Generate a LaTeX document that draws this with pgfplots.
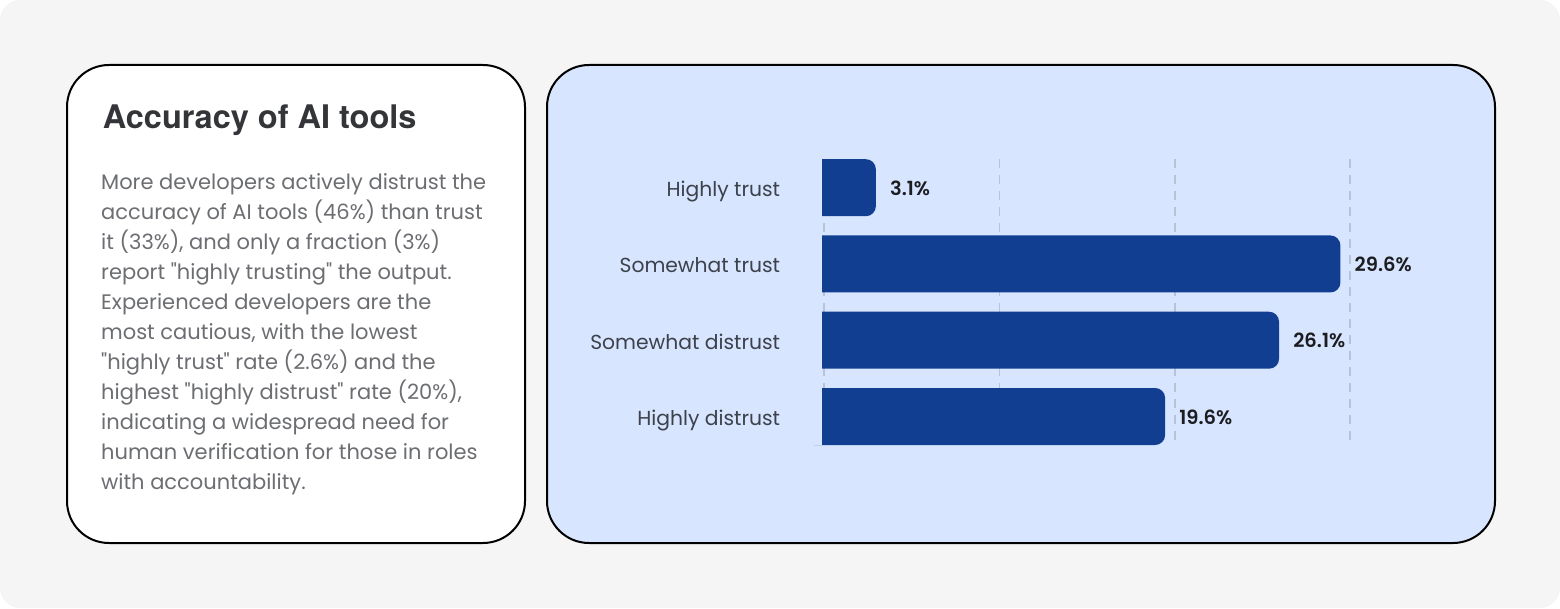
\documentclass[border=0pt]{standalone}
\usepackage{fontspec}
\usepackage{pgfplots}
\pgfplotsset{compat=1.18}
\setmainfont{Poppins}[Ligatures=TeXOff]
\newfontfamily\titlefont{TeX Gyre Heros}
\newfontfamily\semifont{Poppins SemiBold}

\definecolor{bgout}{HTML}{F5F5F5}
\definecolor{cardblue}{HTML}{D7E5FE}
\definecolor{barblue}{HTML}{123E92}
\definecolor{gridc}{HTML}{B9C3D6}
\definecolor{titlec}{HTML}{333538}
\definecolor{bodyc}{HTML}{6C6E72}
\definecolor{catc}{HTML}{3C414C}
\definecolor{valc}{HTML}{1C1D21}

\newcommand\bodyline[2]{\node[anchor=base west, inner sep=0pt, text=bodyc,
  font=\fontsize{21}{24}\selectfont] at (101,#1) {#2};}

\begin{document}
\begin{tikzpicture}[x=1pt, y=1pt]
  \fill[bgout, rounded corners=20pt] (0,0) rectangle (1560,608);
  \draw[line width=2pt, fill=white, rounded corners=42pt] (67,65) rectangle (525,543);
  \draw[line width=2pt, fill=cardblue, rounded corners=42pt] (547,65) rectangle (1495,543);

  \node[anchor=base west, inner sep=0pt, text=titlec,
    font=\titlefont\bfseries\fontsize{32.5}{38}\selectfont] at (102.7,479.7) {Accuracy of AI tools};

  \bodyline{418.0}{More developers actively distrust the}
  \bodyline{388.1}{accuracy of AI tools (46\%) than trust}
  \bodyline{358.2}{it (33\%), and only a fraction (3\%)}
  \bodyline{328.3}{report "highly trusting" the output.}
  \bodyline{298.4}{Experienced developers are the}
  \bodyline{268.5}{most cautious, with the lowest}
  \bodyline{238.6}{"highly trust" rate (2.6\%) and the}
  \bodyline{208.7}{highest "highly distrust" rate (20\%),}
  \bodyline{178.8}{indicating a widespread need for}
  \bodyline{148.9}{human verification for those in roles}
  \bodyline{119.0}{with accountability.}

  % bars are shifted one unit right; the first unit (with the rounded left ends)
  % is masked so that the bars show a square start at 0
  \begin{axis}[
    at={(804pt,163pt)}, anchor=south west,
    scale only axis, width=648.6pt, height=285.8pt,
    xbar, bar width=57pt,
    x filter/.expression={x+1},
    xmin=0, xmax=37,
    ymin=-0.3737, ymax=3.3737, y dir=reverse,
    axis line style={draw=none},
    major tick length=0pt,
    xtick={1.15,11.15,21.15,31.15}, xticklabels={},
    xmajorgrids,
    grid style={gridc, line width=1.5pt, dash pattern=on 9pt off 7pt},
    ytick={0,1,2,3},
    yticklabels={Highly trust, Somewhat trust, Somewhat distrust, Highly distrust},
    yticklabel style={anchor=base east, inner sep=0pt, xshift=-23.7pt, yshift=-9pt,
      text=catc, font=\fontsize{20.3}{24}\selectfont},
    point meta=explicit symbolic,
    nodes near coords={\pgfplotspointmeta\%},
    every node near coord/.append style={anchor=base west, inner sep=0pt,
      xshift=14pt, yshift=-7.5pt,
      text=valc, font=\semifont\fontsize{19.5}{22}\selectfont},
  ]
    \addplot[fill=barblue, draw=none, rounded corners=10pt] coordinates {
      (3.1,0) [3.1]
      (29.6,1) [29.6]
      (26.1,2) [26.1]
      (19.6,3) [19.6]
    };
    \fill[cardblue] (axis cs:0,-0.3737) rectangle (axis cs:1,3.3737);
  \end{axis}
\end{tikzpicture}
\end{document}
